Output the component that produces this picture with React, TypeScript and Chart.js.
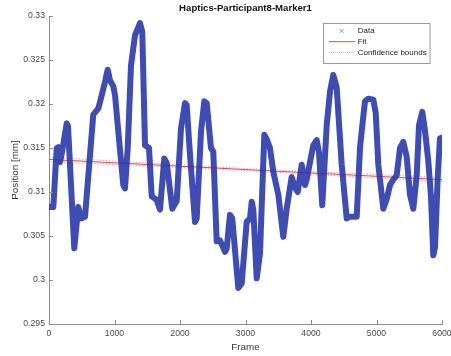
import React, { useEffect, useRef } from "react";
import { Chart, registerables } from "chart.js";
Chart.register(...registerables);

const titleText = "Haptics-Participant8-Marker1";
const xTitle = "Frame";
const yTitle = "Position [mm]";
const legendLabels = ["Data", "Fit", "Confidence bounds"];

const frames = [
  0, 66, 118, 142, 168, 198, 270, 290, 386, 447, 489, 550, 676, 753, 805, 855, 896, 931, 982, 1008,
  1058, 1134, 1160, 1202, 1252, 1313, 1389, 1424, 1466, 1527, 1568, 1644, 1695, 1760, 1797, 1882, 1950,
  2015, 2076, 2102, 2153, 2229, 2255, 2321, 2371, 2408, 2473, 2508, 2560, 2611, 2687, 2713, 2763, 2798,
  2890, 2942, 3018, 3069, 3095, 3119, 3171, 3221, 3287, 3324, 3374, 3424, 3501, 3577, 3629, 3705, 3756,
  3797, 3858, 3908, 3934, 3985, 4035, 4087, 4122, 4172, 4240, 4290, 4340, 4392, 4469, 4545, 4595, 4698,
  4748, 4774, 4824, 4875, 4951, 4988, 5028, 5104, 5156, 5206, 5257, 5308, 5359, 5409, 5461, 5511, 5562,
  5614, 5649, 5699, 5740, 5791, 5832, 5867, 5893, 5934, 5969, 6010,
];
const positions = [
  0.3083, 0.3083, 0.315, 0.3151, 0.3134, 0.3145, 0.3178, 0.3175, 0.3036, 0.3083, 0.307, 0.3072, 0.3188,
  0.3195, 0.321, 0.3225, 0.3239, 0.3227, 0.322, 0.321, 0.3169, 0.3108, 0.3104, 0.315, 0.3244, 0.3278,
  0.3292, 0.3282, 0.3153, 0.315, 0.3095, 0.3091, 0.308, 0.3138, 0.3133, 0.3081, 0.309, 0.3172, 0.3201,
  0.3199, 0.3142, 0.3066, 0.307, 0.3169, 0.3203, 0.3201, 0.315, 0.3146, 0.3044, 0.3045, 0.3032, 0.3036,
  0.3074, 0.307, 0.2991, 0.2996, 0.3066, 0.307, 0.3089, 0.308, 0.3002, 0.303, 0.3165, 0.316, 0.315,
  0.3123, 0.3097, 0.3049, 0.3081, 0.3117, 0.3105, 0.31, 0.3131, 0.3108, 0.3114, 0.3134, 0.3153, 0.3159,
  0.3145, 0.3085, 0.3176, 0.3214, 0.3233, 0.3219, 0.3131, 0.307, 0.3072, 0.3072, 0.315, 0.3169, 0.3203,
  0.3206, 0.3205, 0.319, 0.3131, 0.3081, 0.3092, 0.3108, 0.3114, 0.3119, 0.315, 0.3157, 0.314, 0.3097,
  0.3081, 0.3119, 0.3176, 0.3191, 0.317, 0.3135, 0.3095, 0.3028, 0.3037, 0.3115, 0.3161, 0.3162,
];

const fitFrames = [0, 6000];
const fitValues = [0.3137, 0.3114];
const boundFrames = [0, 1500, 3000, 4500, 6000];
const upperBound = [0.31395, 0.313285, 0.31267, 0.312135, 0.31165];
const lowerBound = [0.31345, 0.312965, 0.31243, 0.311815, 0.31115];

const xTicks = [0, 1000, 2000, 3000, 4000, 5000, 6000];
const yTicks = [0.295, 0.3, 0.305, 0.31, 0.315, 0.32, 0.325, 0.33];

const FONT = "Arial, 'Liberation Sans', sans-serif";
const AXIS = "#8c8c8c";
const TICKTXT = "#4a4a4a";
const DATA = "rgba(42,56,168,0.9)";
const FIT = "#e5484d";
const BOUND = "rgba(236,130,150,0.75)";

const pts = (xs: number[], ys: number[]) => xs.map((x, i) => ({ x, y: ys[i] }));

const decor = {
  id: "decor",
  afterDraw(chart: any) {
    const { ctx, chartArea, scales } = chart;
    ctx.save();
    ctx.strokeStyle = AXIS;
    ctx.lineWidth = 1;
    scales.y.ticks.forEach((t: any) => {
      const py = Math.round(scales.y.getPixelForValue(t.value)) + 0.5;
      ctx.beginPath();
      ctx.moveTo(chartArea.left, py);
      ctx.lineTo(chartArea.left + 4, py);
      ctx.stroke();
    });
    scales.x.ticks.forEach((t: any) => {
      const px = Math.round(scales.x.getPixelForValue(t.value)) + 0.5;
      ctx.beginPath();
      ctx.moveTo(px, chartArea.bottom);
      ctx.lineTo(px, chartArea.bottom - 4);
      ctx.stroke();
    });
    ctx.font = `bold 9.6px ${FONT}`;
    ctx.fillStyle = "#111";
    ctx.textAlign = "center";
    ctx.textBaseline = "middle";
    ctx.fillText(titleText, (chartArea.left + chartArea.right) / 2, 8);
    const lx = 323.5, ly = 23.5, lw = 106.5, lh = 40;
    ctx.fillStyle = "#fff";
    ctx.fillRect(lx, ly, lw, lh);
    ctx.strokeStyle = "#9a9a9a";
    ctx.strokeRect(lx, ly, lw, lh);
    const rows = [31, 41.7, 52.3];
    ctx.strokeStyle = "#7b7bd8";
    ctx.lineWidth = 0.8;
    const cx = 341.7, r = 2;
    ctx.beginPath();
    ctx.moveTo(cx - r, rows[0] - r);
    ctx.lineTo(cx + r, rows[0] + r);
    ctx.moveTo(cx + r, rows[0] - r);
    ctx.lineTo(cx - r, rows[0] + r);
    ctx.stroke();
    ctx.strokeStyle = FIT;
    ctx.lineWidth = 1;
    ctx.beginPath();
    ctx.moveTo(329, rows[1]);
    ctx.lineTo(355, rows[1]);
    ctx.stroke();
    ctx.strokeStyle = BOUND;
    ctx.setLineDash([1, 1]);
    ctx.beginPath();
    ctx.moveTo(329, rows[2]);
    ctx.lineTo(355, rows[2]);
    ctx.stroke();
    ctx.setLineDash([]);
    ctx.font = `8px ${FONT}`;
    ctx.fillStyle = "#222";
    ctx.textAlign = "left";
    ctx.textBaseline = "middle";
    legendLabels.forEach((l, i) => ctx.fillText(l, 357.7, rows[i]));
    ctx.restore();
  },
};

export default function App() {
  const ref = useRef<HTMLCanvasElement>(null);
  useEffect(() => {
    if (!ref.current) return;
    const chart = new Chart(ref.current, {
      type: "scatter",
      data: {
        datasets: [
          {
            label: legendLabels[0],
            data: pts(frames, positions),
            showLine: true,
            borderColor: DATA,
            borderWidth: 6,
            pointRadius: 0,
            borderJoinStyle: "round",
            borderCapStyle: "round",
            tension: 0,
          },
          {
            label: legendLabels[2],
            data: pts(boundFrames, upperBound),
            showLine: true,
            borderColor: BOUND,
            borderWidth: 1,
            borderDash: [1.5, 1.5],
            pointRadius: 0,
          },
          {
            label: legendLabels[2],
            data: pts(boundFrames, lowerBound),
            showLine: true,
            borderColor: BOUND,
            borderWidth: 1,
            borderDash: [1.5, 1.5],
            pointRadius: 0,
          },
          {
            label: legendLabels[1],
            data: pts(fitFrames, fitValues),
            showLine: true,
            borderColor: FIT,
            borderWidth: 1,
            pointRadius: 0,
          },
        ],
      },
      options: {
        animation: false,
        responsive: false,
        devicePixelRatio: 1,
        layout: { padding: { left: 0, top: 16, right: 9, bottom: 0 } },
        plugins: { legend: { display: false }, title: { display: false }, tooltip: { enabled: false } },
        scales: {
          x: {
            type: "linear",
            min: 0,
            max: 6000,
            afterBuildTicks: (s: any) => { s.ticks = xTicks.map((v) => ({ value: v })); },
            afterFit: (s: any) => { s.height = 32; s.paddingLeft = 0; s.paddingRight = 0; },
            grid: { display: false, drawTicks: false },
            border: { display: true, color: AXIS, width: 1 },
            ticks: { color: TICKTXT, padding: 4, maxRotation: 0, font: { family: FONT, size: 8.7 }, callback: (v: any) => String(v) },
            title: { display: true, text: xTitle, color: "#333", font: { family: FONT, size: 9.8 }, padding: { top: 0, bottom: 3 } },
          },
          y: {
            type: "linear",
            min: 0.295,
            max: 0.33,
            afterBuildTicks: (s: any) => { s.ticks = yTicks.map((v) => ({ value: v })); },
            afterFit: (s: any) => { s.width = 49; s.paddingTop = 0; s.paddingBottom = 0; },
            grid: { display: false, drawTicks: false },
            border: { display: true, color: AXIS, width: 1 },
            ticks: { color: TICKTXT, padding: 4, font: { family: FONT, size: 8.7 }, callback: (v: any) => String(parseFloat(Number(v).toFixed(4))) },
            title: { display: true, text: yTitle, color: "#333", font: { family: FONT, size: 9.8 }, padding: { top: 9, bottom: 0 } },
          },
        },
      },
      plugins: [decor],
    });
    return () => chart.destroy();
  }, []);
  return (
    <div style={{ position: "absolute", left: 0, top: 0, width: 451, height: 356, background: "#fff" }}>
      <canvas ref={ref} width={451} height={356} />
    </div>
  );
}
